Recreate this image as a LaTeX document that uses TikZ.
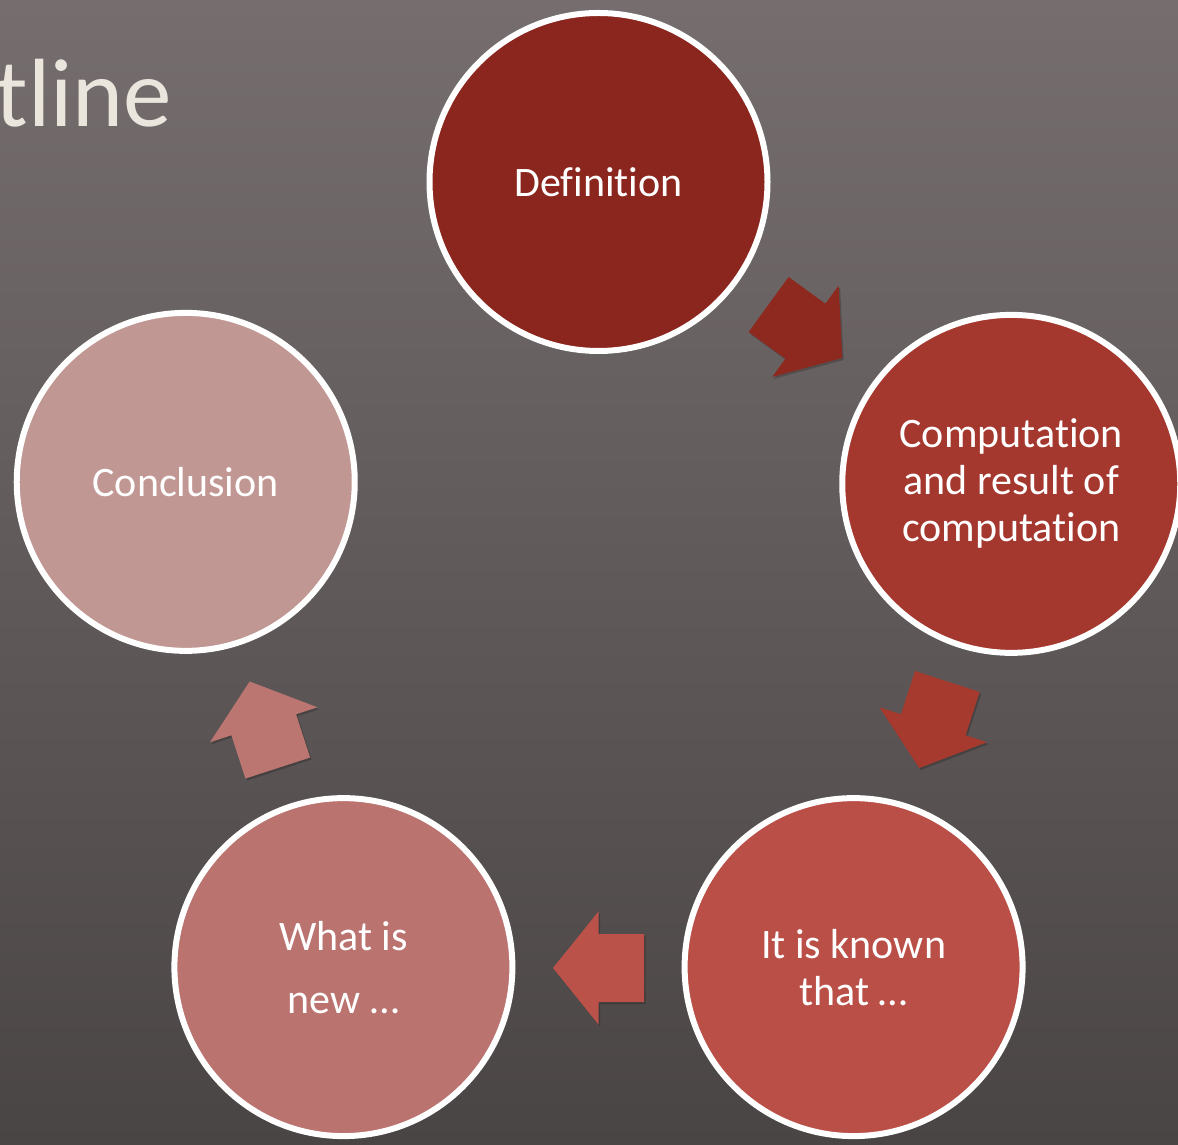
\documentclass[tikz,border=0pt]{standalone}
\usepackage{fontspec}
\setmainfont{Carlito}[Ligatures={NoCommon}]
\usetikzlibrary{shadows}
\definecolor{bgtop}{RGB}{118,110,110}
\definecolor{bgbot}{RGB}{74,69,69}
\definecolor{titlec}{RGB}{234,230,222}
\definecolor{cA}{RGB}{139,38,30}
\definecolor{cB}{RGB}{165,56,46}
\definecolor{cC}{RGB}{186,79,71}
\definecolor{cD}{RGB}{186,115,111}
\definecolor{cE}{RGB}{193,151,148}
\definecolor{aA}{RGB}{142,41,31}
\definecolor{aB}{RGB}{166,58,47}
\definecolor{aC}{RGB}{187,82,74}
\definecolor{aD}{RGB}{187,118,114}
\tikzset{
  stagecircle/.style={circle, minimum size=338pt, inner sep=0pt, draw=white,
    line width=6pt, align=center, text=white,
    font=\fontsize{42}{47}\selectfont,
    drop shadow={shadow xshift=0pt, shadow yshift=-3pt, opacity=0.3, fill=black}},
  blockarrow/.style={draw=none,
    drop shadow={shadow xshift=1.5pt, shadow yshift=-2pt, opacity=0.2, fill=black}}
}
\newcommand{\cyclearrow}[2]{%
  \begin{scope}[shift={(#1:352)}, rotate=#1-90]
    \path[blockarrow, fill=#2] (-45.5,-34) -- (0,-34) -- (0,-56.5) -- (45.5,0)
      -- (0,56.5) -- (0,34) -- (-45.5,34) -- cycle;
  \end{scope}}
\begin{document}
\begin{tikzpicture}[x=1pt, y=1pt]
\useasboundingbox (0,0) rectangle (1178,1144);
\clip (0,0) rectangle (1178,1144);
\shade[top color=bgtop, bottom color=bgbot] (0,0) rectangle (1178,1144);
\node[anchor=base east, inner sep=0pt, text=titlec, font=\fontsize{97}{110}\selectfont] (title) at (172,1017) {tline};
\begin{scope}[shift={(598.5,528)}]
  \node[stagecircle, fill=cA] (def) at (90:434) {Definition};
  \node[stagecircle, fill=cB, yshift=-2pt] (comp) at (18:434) {Computation\\and result of\\computation};
  \node[stagecircle, fill=cC] (known) at (-54:434) {It is known\\that …};
  \node[stagecircle, fill=cD] (new) at (-126:434) {What is\\[16pt]new …};
  \node[stagecircle, fill=cE] (concl) at (162:434) {Conclusion};
  \cyclearrow{54}{aA}
  \cyclearrow{-18}{aB}
  \cyclearrow{-90}{aC}
  \cyclearrow{-162}{aD}
\end{scope}
\end{tikzpicture}
\end{document}
